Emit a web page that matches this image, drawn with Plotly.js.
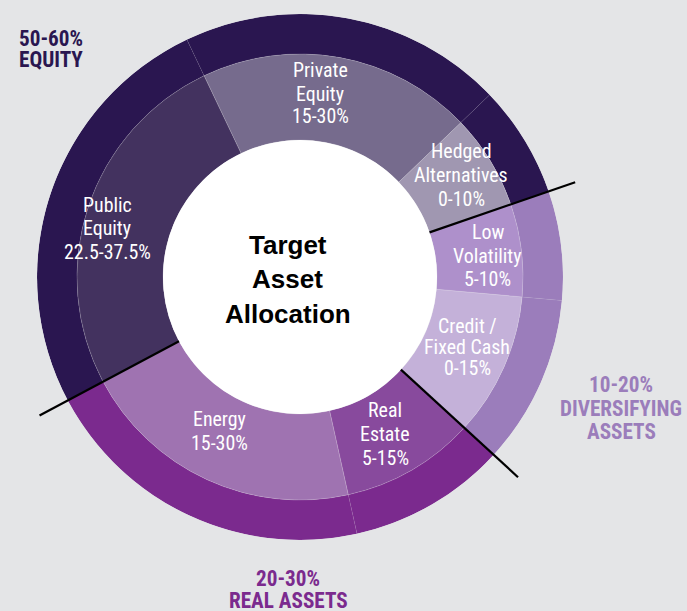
<!DOCTYPE html>
<html><head><meta charset="utf-8">
<script src="https://cdn.plot.ly/plotly-3.0.1.min.js"></script>
<style>html,body{margin:0;padding:0;background:#e4e5e7;}</style>
</head><body><div id="chart" style="width:687px;height:611px;"></div>
<script>
// ---------- data ----------
const segmentLabels = [['Hedged','Alternatives'], ['Private','Equity'], ['Public','Equity'], ['Energy'], ['Real','Estate'], ['Credit /','Fixed Cash'], ['Low','Volatility']];
const segmentRanges = ['0-10%', '15-30%', '22.5-37.5%', '15-30%', '5-15%', '0-15%', '5-10%'];
const segmentGroup = [0, 0, 0, 1, 1, 2, 2];
const segmentShare = [6.9, 19.9, 25.7, 20.7, 9.7, 10.4, 6.7]; // share of the ring, %
const groupNames = [['EQUITY'], ['REAL ASSETS'], ['DIVERSIFYING','ASSETS']];
const groupRanges = ['50-60%', '20-30%', '10-20%'];
const centerTitle = ['Target', 'Asset', 'Allocation'];

// ---------- style / layout ----------
const W = 687, H = 611;
const CX = 300, CY = 277, R_OUT = 263, R_MID = 223, R_IN = 137;
const START_ANGLE = 19;
const segmentColors = ['#a097b1', '#766b8d', '#43325f', '#9f73b1', '#884a9d', '#c4b1d9', '#ae90cb'];
const groupColors = ['#2a1650', '#7b2a8e', '#9b7dbb'];
const segLabelPos = [[461,175.5,24], [320,94,23], [107,229,23.5], [219,431.5,24], [385,434.5,23.8], [467,347.5,21.3], [488,256,23.7]];
const groupLabelPos = [[50.5,49,22], [288,589.5,22], [621,408,23.5]];
const lineEnd = [291, 295, 296];

// pick installed condensed faces and fit their size to the reference text widths
const cv = document.createElement('canvas').getContext('2d');
function textW(str, fam, weight) { cv.font = weight + ' 100px ' + fam; return cv.measureText(str).width; }
const probe = 'abcdefghijklmnopqrstuvwxyzABCDEFGHIJ0123456789';
function installed(f) {
  return textW(probe, "'" + f + "', monospace", 'normal') !== textW(probe, 'monospace', 'normal') ||
         textW(probe, "'" + f + "', serif", 'normal') !== textW(probe, 'serif', 'normal');
}
function hasRegular(f) {
  return installed(f) && textW(probe, "'" + f + "'", 'normal') !== textW(probe, "'" + f + "'", 'bold');
}
const condCandidates = ['Noto Sans ExtraCondensed', 'Noto Sans Condensed', 'Liberation Sans Narrow', 'Roboto Condensed', 'Open Sans Condensed', 'DejaVu Sans Condensed'];
const boldFace = condCandidates.find(installed) || 'DejaVu Sans Condensed';
const regFace = condCandidates.find(hasRegular) || 'DejaVu Sans Condensed';
const boldFont = "'" + boldFace + "', sans-serif";
const regFont = "'" + regFace + "', sans-serif";
const labelSize = Math.min(20, 100 * 87 / textW('22.5-37.5%', regFont, 'normal'));
const groupSize = Math.min(23, 100 * 122 / textW('DIVERSIFYING', boldFont, 'bold'));

// angles
const theta = [], widths = [];
let acc = START_ANGLE;
segmentShare.forEach(s => { const w = s * 3.6; theta.push(acc + w / 2); widths.push(w); acc += w; });
const groupStart = groupNames.map((g, gi) => theta[segmentGroup.indexOf(gi)] - widths[segmentGroup.indexOf(gi)] / 2);

const traces = [
  { type: 'barpolar', theta: theta, width: widths, base: segmentShare.map(() => R_MID), r: segmentShare.map(() => R_OUT - R_MID),
    marker: { color: segmentGroup.map(g => groupColors[g]), line: { color: 'rgba(255,255,255,0.10)', width: 0.6 } }, hoverinfo: 'skip' },
  { type: 'barpolar', theta: theta, width: widths, base: segmentShare.map(() => R_IN), r: segmentShare.map(() => R_MID - R_IN),
    marker: { color: segmentColors, line: { color: 'rgba(255,255,255,0.25)', width: 0.7 } }, hoverinfo: 'skip' },
  { type: 'barpolar', theta: [180], width: [360], base: [0], r: [R_IN],
    marker: { color: '#ffffff', line: { width: 0 } }, hoverinfo: 'skip' }
];

const annotations = [];
function addLines(lines, cx, cy, sp, font) {
  lines.forEach((t, i) => {
    const y = cy + (i - (lines.length - 1) / 2) * sp;
    annotations.push({ xref: 'paper', yref: 'paper', x: cx / W, y: 1 - y / H, xanchor: 'center', yanchor: 'middle',
      text: t, showarrow: false, font: font });
  });
}
segmentLabels.forEach((lbl, i) => {
  const p = segLabelPos[i];
  addLines(lbl.concat([segmentRanges[i]]), p[0], p[1], p[2], { family: regFont, size: labelSize, color: '#ffffff', weight: 'normal' });
});
groupNames.forEach((g, i) => {
  const p = groupLabelPos[i];
  addLines([groupRanges[i]].concat(g), p[0], p[1], p[2], { family: boldFont, size: groupSize, color: groupColors[i], weight: 'bold' });
});
addLines(centerTitle, 287.5, 279, 34.5, { family: "'Liberation Sans', Arial, sans-serif", size: 26, color: '#000000', weight: 'bold' });

const shapes = groupStart.map((a, i) => {
  const rad = a * Math.PI / 180;
  const x0 = CX + R_IN * Math.cos(rad), y0 = CY - R_IN * Math.sin(rad);
  const x1 = CX + lineEnd[i] * Math.cos(rad), y1 = CY - lineEnd[i] * Math.sin(rad);
  return { type: 'line', xref: 'paper', yref: 'paper', x0: x0 / W, y0: 1 - y0 / H, x1: x1 / W, y1: 1 - y1 / H,
    line: { color: '#000000', width: 2.2 } };
});

const layout = {
  width: W, height: H, margin: { l: 0, r: 0, t: 0, b: 0 },
  paper_bgcolor: '#e4e5e7', plot_bgcolor: '#e4e5e7', showlegend: false,
  polar: {
    domain: { x: [(CX - R_OUT) / W, (CX + R_OUT) / W], y: [(H - CY - R_OUT) / H, (H - CY + R_OUT) / H] },
    bgcolor: 'rgba(0,0,0,0)', barmode: 'overlay', bargap: 0,
    radialaxis: { range: [0, R_OUT], visible: false, showgrid: false },
    angularaxis: { visible: false, showgrid: false, rotation: 0, direction: 'counterclockwise' }
  },
  annotations: annotations, shapes: shapes
};
Plotly.newPlot('chart', traces, layout, { displayModeBar: false, staticPlot: true });
</script></body></html>
